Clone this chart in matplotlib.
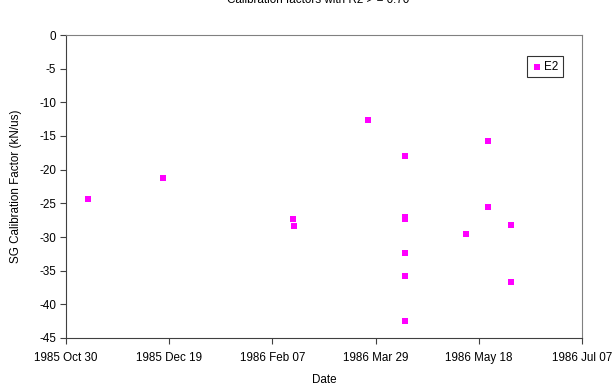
import matplotlib
matplotlib.use("Agg")
import matplotlib.pyplot as plt
import matplotlib.dates as mdates
import numpy as np

plt.rcParams['font.family'] = ['Liberation Sans', 'DejaVu Sans']
plt.rcParams['axes.unicode_minus'] = False

start = np.datetime64('1985-10-30')
day_offsets = [10.8, 47, 109.8, 110.5, 146.3, 164.4, 164.4, 164.4, 164.4, 164.4, 164.4,
               193.8, 204.3, 204.5, 215.6, 215.5]
values = [-24.36, -21.28, -27.33, -28.37, -12.58, -17.93, -27.05, -27.3, -32.42, -35.75, -42.43,
          -29.51, -15.79, -25.50, -28.26, -36.64]
dates = [start + np.timedelta64(int(round(d * 24)), 'h') for d in day_offsets]
dates = np.array(dates, dtype='datetime64[h]').astype('datetime64[ms]').astype(object)

tick_dates = [np.datetime64('1985-10-30') + np.timedelta64(50 * i, 'D') for i in range(6)]
tick_dates = [d.astype(object) for d in tick_dates]

FS = 8.4
fig = plt.figure(figsize=(6.12, 3.9), dpi=100)
ax = fig.add_axes([66/612, 1 - 338/390, (582-66)/612, (338-35)/390])

ax.scatter(dates, values, marker='s', s=22, color='#FF00FF', label='E2', zorder=3, linewidths=0)

ax.set_xlim(tick_dates[0], tick_dates[-1])
ax.set_xticks(tick_dates)
ax.xaxis.set_major_formatter(mdates.DateFormatter('%Y %b %d'))
ax.set_ylim(-45, 0)
ax.set_yticks(np.arange(-45, 1, 5))

ax.tick_params(axis='both', labelsize=FS, direction='out', length=4, width=0.8, color='#404040')
ax.tick_params(axis='x', pad=6)
ax.tick_params(axis='y', pad=3)
for s in ['left', 'bottom']:
    ax.spines[s].set_color('#404040')
for s in ['top', 'right']:
    ax.spines[s].set_color('#808080')

ax.set_xlabel('Date', fontsize=FS, labelpad=7)
ax.set_ylabel('SG Calibration Factor (kN/us)', fontsize=FS)
ax.yaxis.set_label_coords(-(66 - 22) / 516, 0.5)
fig.text(0.52, 1 - 3/390, 'Calibration factors with R2 > = 0.70', ha='center', va='baseline', fontsize=FS)

leg = ax.legend(loc='upper right', bbox_to_anchor=(1 - 19/516, 1 - 21/303), fontsize=FS,
                frameon=True, fancybox=False, edgecolor='black', borderpad=0.4,
                handletextpad=0.1, handlelength=1.0, markerscale=0.9, borderaxespad=0)
leg.get_frame().set_linewidth(0.8)

fig.savefig('out.png', dpi=100)
